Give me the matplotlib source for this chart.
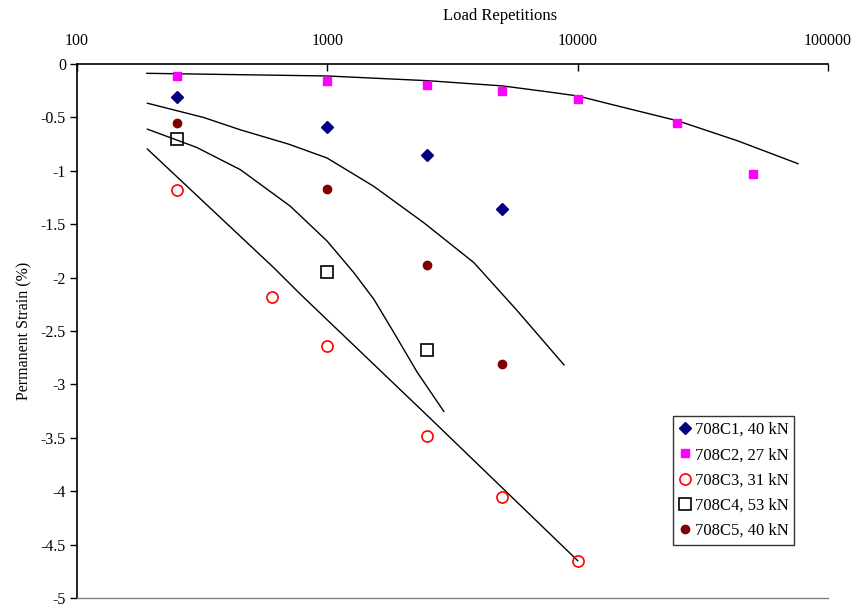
import matplotlib
matplotlib.use("Agg")
import matplotlib.pyplot as plt
import numpy as np

plt.rcParams["font.family"] = ["Liberation Serif", "DejaVu Serif"]

# Measured data
c1_x = [250, 1000, 2500, 5000]
c1_y = [-0.31, -0.59, -0.85, -1.36]

c2_x = [250, 1000, 2500, 5000, 10000, 25000, 50000]
c2_y = [-0.11, -0.16, -0.20, -0.25, -0.33, -0.55, -1.03]

c3_x = [250, 600, 1000, 2500, 5000, 10000]
c3_y = [-1.18, -2.18, -2.64, -3.48, -4.05, -4.65]

c4_x = [250, 1000, 2500]
c4_y = [-0.70, -1.95, -2.68]

c5_x = [250, 1000, 2500, 5000]
c5_y = [-0.55, -1.17, -1.88, -2.81]

# Trendlines
t2_x = [190, 1000, 2512, 5012, 7798, 10000, 14860, 25119, 43652, 75858]
t2_y = [-0.087, -0.112, -0.156, -0.205, -0.264, -0.299, -0.40, -0.532, -0.72, -0.933]

t1_x = [191, 320, 449, 700, 997, 1532, 2428, 3847, 5736, 8816]
t1_y = [-0.367, -0.50, -0.616, -0.75, -0.880, -1.145, -1.486, -1.859, -2.310, -2.817]

t4_x = [191, 300, 449, 711, 997, 1275, 1532, 1841, 2284, 2920]
t4_y = [-0.610, -0.78, -0.989, -1.331, -1.657, -1.953, -2.201, -2.512, -2.885, -3.253]

t3_x = [191, 610, 780, 2582, 10000]
t3_y = [-0.796, -1.906, -2.155, -3.32, -4.65]

fig = plt.figure(figsize=(8.56, 6.08), dpi=100)
ax = fig.add_axes([0.09, 0.0164, 0.8773, 0.8783])

for tx, ty in [(t2_x, t2_y), (t1_x, t1_y), (t4_x, t4_y), (t3_x, t3_y)]:
    ax.plot(tx, ty, color="black", linewidth=1.0, zorder=2)

ax.plot(c1_x, c1_y, "D", color="#000080", markersize=6.5, linestyle="none",
        label="708C1, 40 kN", zorder=3)
ax.plot(c2_x, c2_y, "s", color="#FF00FF", markersize=6, linestyle="none",
        label="708C2, 27 kN", zorder=3)
ax.plot(c3_x, c3_y, "o", mfc="none", mec="#FF0000", mew=1.2, markersize=8,
        linestyle="none", label="708C3, 31 kN", zorder=3)
ax.plot(c4_x, c4_y, "s", mfc="none", mec="black", mew=1.2, markersize=8,
        linestyle="none", label="708C4, 53 kN", zorder=3)
ax.plot(c5_x, c5_y, "o", color="#800000", markersize=6, linestyle="none",
        label="708C5, 40 kN", zorder=3)

ax.set_xscale("log")
ax.set_xlim(100, 100000)
ax.set_ylim(-5, 0)
ax.xaxis.tick_top()
ax.xaxis.set_label_position("top")
ax.set_xticks([100, 1000, 10000, 100000])
ax.set_xticklabels(["100", "1000", "10000", "100000"])
ax.xaxis.set_minor_locator(matplotlib.ticker.NullLocator())
ax.set_yticks(np.arange(-5, 0.01, 0.5))
ax.set_yticklabels(["-5", "-4.5", "-4", "-3.5", "-3", "-2.5", "-2", "-1.5",
                    "-1", "-0.5", "0"])
ax.tick_params(axis="x", direction="in", length=5, labelsize=11.5, pad=11, width=1)
ax.tick_params(axis="y", direction="out", length=5, labelsize=11.5, pad=3, width=1)

ax.set_xlabel("Load Repetitions", fontsize=12, labelpad=9)
ax.xaxis.label.set_x(0.563)
ax.set_ylabel("Permanent Strain (%)", fontsize=11.5, labelpad=6)

ax.spines["right"].set_visible(False)
ax.spines["top"].set_linewidth(1.2)
ax.spines["left"].set_linewidth(1.2)
ax.spines["bottom"].set_color("#808080")
ax.spines["bottom"].set_linewidth(1.0)

leg = ax.legend(loc="lower right", bbox_to_anchor=(0.955, 0.1), fontsize=12,
                frameon=True, fancybox=False, edgecolor="black",
                handletextpad=0.15, handlelength=0.8, borderpad=0.35,
                labelspacing=0.55, borderaxespad=0)
leg.get_frame().set_linewidth(1.0)

fig.savefig("out.png", dpi=100)
